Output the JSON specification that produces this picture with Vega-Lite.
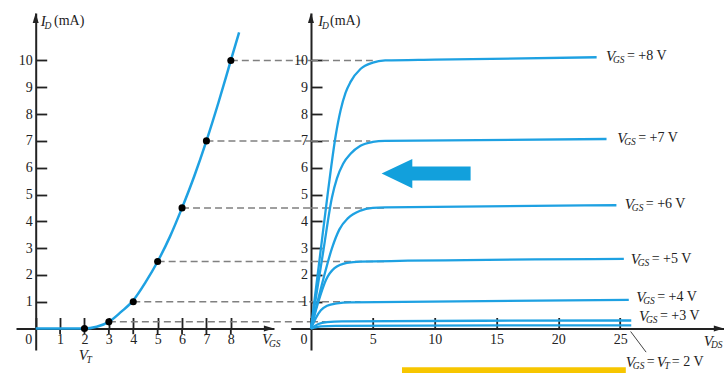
{
  "$schema": "https://vega.github.io/schema/vega-lite/v6.json",
  "padding": {"left": 16, "top": 13, "right": 0, "bottom": 0},
  "spacing": 16.7,
  "bounds": "flush",
  "config": {
    "view": {"stroke": null},
    "text": {"font": "Liberation Serif", "color": "#222", "align": "left", "baseline": "middle"},
    "axis": {
      "grid": false, "title": null,
      "domainColor": "#222", "domainWidth": 2,
      "tickColor": "#222", "tickWidth": 1.8, "tickSize": -11,
      "labelFont": "Liberation Serif", "labelFontSize": 14, "labelColor": "#222",
      "labelFlush": false, "labelOverlap": false
    }
  },
  "datasets": {
    "transfer": [
      {"vgs": 0, "id": 0}, {"vgs": 1, "id": 0}, {"vgs": 2, "id": 0}, {"vgs": 2.5, "id": 0.07},
      {"vgs": 3, "id": 0.25}, {"vgs": 3.5, "id": 0.62}, {"vgs": 4, "id": 1.05}, {"vgs": 4.5, "id": 1.72},
      {"vgs": 5, "id": 2.5}, {"vgs": 5.5, "id": 3.42}, {"vgs": 6, "id": 4.5}, {"vgs": 6.5, "id": 5.68},
      {"vgs": 7, "id": 7}, {"vgs": 7.5, "id": 8.45}, {"vgs": 8, "id": 10}, {"vgs": 8.34, "id": 11.05}
    ],
    "dots": [
      {"vgs": 2, "id": 0}, {"vgs": 3, "id": 0.25}, {"vgs": 4, "id": 1}, {"vgs": 5, "id": 2.5},
      {"vgs": 6, "id": 4.5}, {"vgs": 7, "id": 7}, {"vgs": 8, "id": 10}
    ],
    "leftTicks": [
      {"vgs": 1, "id": 0, "id_end": -0.21}, {"vgs": 2, "id": 0, "id_end": -0.21}, {"vgs": 3, "id": 0, "id_end": -0.21},
      {"vgs": 4, "id": 0, "id_end": -0.21}, {"vgs": 5, "id": 0, "id_end": -0.21}, {"vgs": 6, "id": 0, "id_end": -0.21},
      {"vgs": 7, "id": 0, "id_end": -0.21}, {"vgs": 8, "id": 0, "id_end": -0.21}
    ],
    "leftDash": [
      {"vgs": 3, "id": 0.25, "vgs_end": 11.28}, {"vgs": 4, "id": 1, "vgs_end": 11.28},
      {"vgs": 5, "id": 2.5, "vgs_end": 11.28}, {"vgs": 6, "id": 4.5, "vgs_end": 11.28},
      {"vgs": 7, "id": 7, "vgs_end": 11.28}, {"vgs": 8, "id": 10, "vgs_end": 11.28}
    ],
    "rightDash": [
      {"vds": 0, "id": 10, "vds_end": 5.0}, {"vds": 0, "id": 7, "vds_end": 4.8},
      {"vds": 0, "id": 4.5, "vds_end": 6.0}, {"vds": 0, "id": 2.5, "vds_end": 6.0},
      {"vds": 0, "id": 1, "vds_end": 4.0}, {"vds": 0, "id": 0.25, "vds_end": 1.2}
    ],
    "drain": [
      {"v": 8, "vds": 0, "id": 0}, {"v": 8, "vds": 0.7, "id": 2.6}, {"v": 8, "vds": 1.4, "id": 5.2},
      {"v": 8, "vds": 2.0, "id": 7.2}, {"v": 8, "vds": 2.4, "id": 8.15}, {"v": 8, "vds": 2.8, "id": 8.8},
      {"v": 8, "vds": 3.2, "id": 9.2}, {"v": 8, "vds": 4.0, "id": 9.68}, {"v": 8, "vds": 5.0, "id": 9.92},
      {"v": 8, "vds": 6.0, "id": 10.0}, {"v": 8, "vds": 10, "id": 10.03}, {"v": 8, "vds": 23.1, "id": 10.12},
      {"v": 7, "vds": 0, "id": 0}, {"v": 7, "vds": 1.0, "id": 2.9}, {"v": 7, "vds": 1.7, "id": 4.9},
      {"v": 7, "vds": 2.1, "id": 5.6}, {"v": 7, "vds": 2.6, "id": 6.15}, {"v": 7, "vds": 3.2, "id": 6.52},
      {"v": 7, "vds": 4.0, "id": 6.82}, {"v": 7, "vds": 5.0, "id": 6.96}, {"v": 7, "vds": 6.0, "id": 7.0},
      {"v": 7, "vds": 23.9, "id": 7.07},
      {"v": 6, "vds": 0, "id": 0}, {"v": 6, "vds": 1.0, "id": 1.85}, {"v": 6, "vds": 1.7, "id": 3.0},
      {"v": 6, "vds": 2.3, "id": 3.7}, {"v": 6, "vds": 3.0, "id": 4.12}, {"v": 6, "vds": 4.0, "id": 4.4},
      {"v": 6, "vds": 5.0, "id": 4.5}, {"v": 6, "vds": 6.0, "id": 4.52}, {"v": 6, "vds": 24.7, "id": 4.6},
      {"v": 5, "vds": 0, "id": 0}, {"v": 5, "vds": 0.6, "id": 1.0}, {"v": 5, "vds": 1.2, "id": 1.8},
      {"v": 5, "vds": 1.9, "id": 2.25}, {"v": 5, "vds": 2.9, "id": 2.45}, {"v": 5, "vds": 4.0, "id": 2.5},
      {"v": 5, "vds": 25.3, "id": 2.6},
      {"v": 4, "vds": 0, "id": 0}, {"v": 4, "vds": 0.4, "id": 0.4}, {"v": 4, "vds": 0.8, "id": 0.68},
      {"v": 4, "vds": 1.3, "id": 0.85}, {"v": 4, "vds": 2.1, "id": 0.94}, {"v": 4, "vds": 3.2, "id": 0.98},
      {"v": 4, "vds": 25.7, "id": 1.07},
      {"v": 3, "vds": 0, "id": 0}, {"v": 3, "vds": 0.6, "id": 0.17}, {"v": 3, "vds": 1.3, "id": 0.24},
      {"v": 3, "vds": 2.5, "id": 0.27}, {"v": 3, "vds": 25.9, "id": 0.3},
      {"v": 2, "vds": 0, "id": 0}, {"v": 2, "vds": 0.8, "id": 0.08}, {"v": 2, "vds": 2.0, "id": 0.1},
      {"v": 2, "vds": 25.9, "id": 0.12}
    ],
    "vgsLabels": [
      {"vds": 23.85, "id": 10.15, "rest": "= +8 V"}, {"vds": 24.76, "id": 7.11, "rest": "= +7 V"},
      {"vds": 25.38, "id": 4.64, "rest": "= +6 V"}, {"vds": 25.85, "id": 2.6, "rest": "= +5 V"},
      {"vds": 26.3, "id": 1.19, "rest": "= +4 V"}, {"vds": 26.52, "id": 0.46, "rest": "= +3 V"}
    ]
  },
  "hconcat": [
    {
      "width": 258, "height": 337,
      "encoding": {
        "x": {"field": "vgs", "type": "quantitative",
          "scale": {"domain": [-0.807, 9.77], "nice": false, "zero": false},
          "axis": {"values": [0, 1, 2, 3, 4, 5, 6, 7, 8], "offset": -21.5, "labelPadding": 15, "labelBaseline": "top",
            "labelAlign": {"condition": {"test": "datum.value === 0", "value": "right"}, "value": "center"},
            "labelOffset": {"condition": {"test": "datum.value === 0", "value": -4}, "value": 0}}},
        "y": {"field": "id", "type": "quantitative",
          "scale": {"domain": [-0.8, 11.77], "nice": false, "zero": false},
          "axis": {"values": [1, 2, 3, 4, 5, 6, 7, 8, 9, 10], "offset": -19.7, "labelPadding": 14.5}}
      },
      "layer": [
        {"data": {"name": "leftDash"}, "mark": {"type": "rule", "strokeDash": [7, 4], "color": "#808080", "strokeWidth": 1.5},
          "encoding": {"x2": {"field": "vgs_end"}}},
        {"data": {"name": "leftTicks"}, "mark": {"type": "rule", "color": "#222", "strokeWidth": 1.8},
          "encoding": {"y2": {"field": "id_end"}}},
        {"data": {"name": "transfer"}, "mark": {"type": "line", "interpolate": "monotone", "color": "#1ea1e2", "strokeWidth": 2.5}},
        {"data": {"name": "dots"}, "mark": {"type": "point", "filled": true, "shape": "circle", "size": 50, "color": "#000", "opacity": 1}},
        {"data": {"values": [{"vgs": 0, "id": 11.58}]}, "mark": {"type": "point", "filled": true, "shape": "M0,-1 L0.6,1 L-0.6,1 Z", "size": 100, "color": "#222", "opacity": 1}},
        {"data": {"values": [{"vgs": 9.56, "id": 0}]}, "mark": {"type": "point", "filled": true, "shape": "M1,0 L-1,-0.6 L-1,0.6 Z", "size": 100, "color": "#222", "opacity": 1}},
        {"data": {"values": [{"vgs": 0.205, "id": 11.47, "t": "I"}, {"vgs": 9.28, "id": -0.4, "t": "V"}, {"vgs": 1.77, "id": -1.0, "t": "V"}]},
          "mark": {"type": "text", "fontStyle": "italic", "fontSize": 15}, "encoding": {"text": {"field": "t"}}},
        {"data": {"values": [{"vgs": 0.36, "id": 11.3, "t": "D"}, {"vgs": 9.56, "id": -0.56, "t": "GS"}, {"vgs": 2.08, "id": -1.17, "t": "T"}]},
          "mark": {"type": "text", "fontStyle": "italic", "fontSize": 9.5}, "encoding": {"text": {"field": "t"}}},
        {"data": {"values": [{"vgs": 0.75, "id": 11.47, "t": "(mA)"}]},
          "mark": {"type": "text", "fontSize": 14}, "encoding": {"text": {"field": "t"}}}
      ]
    },
    {
      "width": 433.3, "height": 337,
      "encoding": {
        "x": {"field": "vds", "type": "quantitative",
          "scale": {"domain": [-1.64, 33.4], "nice": false, "zero": false},
          "axis": {"values": [0, 5, 10, 15, 20, 25], "offset": -21.5, "labelPadding": 15, "labelBaseline": "top",
            "labelAlign": {"condition": {"test": "datum.value === 0", "value": "right"}, "value": "center"},
            "labelOffset": {"condition": {"test": "datum.value === 0", "value": -4}, "value": 0}}},
        "y": {"field": "id", "type": "quantitative",
          "scale": {"domain": [-0.8, 11.77], "nice": false, "zero": false},
          "axis": {"values": [1, 2, 3, 4, 5, 6, 7, 8, 9, 10], "offset": -20.3, "labelPadding": 14.5}}
      },
      "layer": [
        {"data": {"values": [{"vds": 7.36, "vds_end": 25.46, "id": -1.44, "id_end": -1.8}]},
          "mark": {"type": "rect", "color": "#f7c600"}, "encoding": {"x2": {"field": "vds_end"}, "y2": {"field": "id_end"}}},
        {"data": {"name": "rightDash"}, "mark": {"type": "rule", "strokeDash": [7, 4], "color": "#808080", "strokeWidth": 1.5},
          "encoding": {"x2": {"field": "vds_end"}}},
        {"data": {"name": "drain"}, "mark": {"type": "line", "interpolate": "monotone", "color": "#1ea1e2", "strokeWidth": 2.3},
          "encoding": {"detail": {"field": "v"}}},
        {"data": {"values": [{"vds": 9.31, "id": 5.78}]}, "mark": {"type": "point", "filled": true, "shape": "M-1,0 L-0.31,-0.33 L-0.31,-0.157 L1,-0.157 L1,0.157 L-0.31,0.157 L-0.31,0.33 Z", "size": 7921, "color": "#12a0dc", "opacity": 1}},
        {"data": {"values": [{"vds": 0, "id": 11.58}]}, "mark": {"type": "point", "filled": true, "shape": "M0,-1 L0.6,1 L-0.6,1 Z", "size": 100, "color": "#222", "opacity": 1}},
        {"data": {"values": [{"vds": 32.98, "id": 0}]}, "mark": {"type": "point", "filled": true, "shape": "M1,0 L-1,-0.6 L-1,0.6 Z", "size": 100, "color": "#222", "opacity": 1}},
        {"data": {"values": [{"vds": 25.85, "id": -0.11, "vds_end": 27.1, "id_end": -0.88}]},
          "mark": {"type": "rule", "color": "#444", "strokeWidth": 1}, "encoding": {"x2": {"field": "vds_end"}, "y2": {"field": "id_end"}}},
        {"data": {"name": "vgsLabels"}, "mark": {"type": "text", "fontStyle": "italic", "fontSize": 15, "text": "V"}},
        {"data": {"name": "vgsLabels"}, "mark": {"type": "text", "fontStyle": "italic", "fontSize": 9.5, "text": "GS", "dx": 7, "dy": 4}},
        {"data": {"name": "vgsLabels"}, "mark": {"type": "text", "fontSize": 14, "dx": 21}, "encoding": {"text": {"field": "rest"}}},
        {"data": {"values": [{"vds": 0.59, "id": 11.47, "t": "I"}, {"vds": 31.77, "id": -0.45, "t": "V"}, {"vds": 25.46, "id": -1.24, "t": "V"}, {"vds": 27.97, "id": -1.24, "t": "V"}]},
          "mark": {"type": "text", "fontStyle": "italic", "fontSize": 15}, "encoding": {"text": {"field": "t"}}},
        {"data": {"values": [{"vds": 0.89, "id": 11.3, "t": "D"}, {"vds": 32.34, "id": -0.62, "t": "DS"}, {"vds": 26.03, "id": -1.41, "t": "GS"}, {"vds": 28.58, "id": -1.41, "t": "T"}]},
          "mark": {"type": "text", "fontStyle": "italic", "fontSize": 9.5}, "encoding": {"text": {"field": "t"}}},
        {"data": {"values": [{"vds": 1.54, "id": 11.47, "t": "(mA)"}, {"vds": 27.16, "id": -1.24, "t": "="}, {"vds": 29.18, "id": -1.24, "t": "= 2 V"}]},
          "mark": {"type": "text", "fontSize": 14}, "encoding": {"text": {"field": "t"}}}
      ]
    }
  ]
}
